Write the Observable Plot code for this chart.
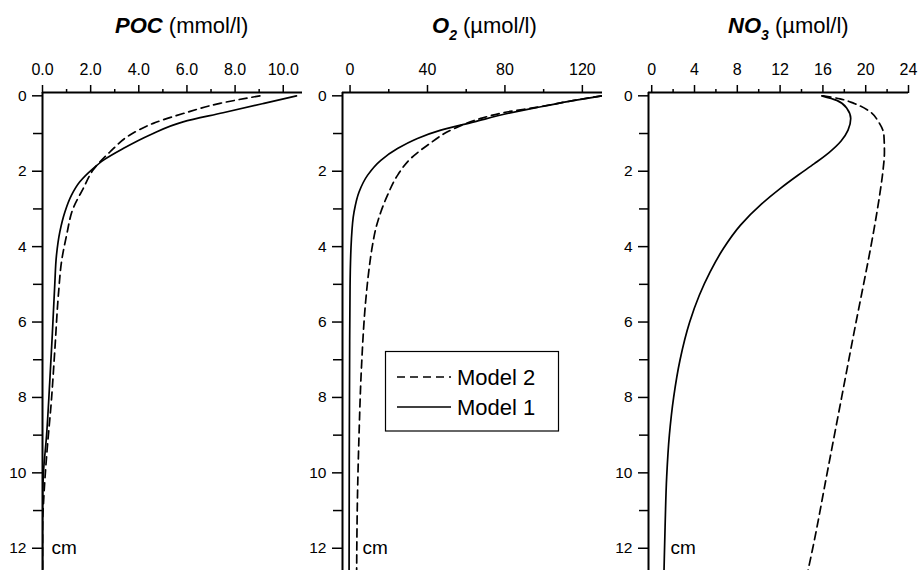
<!DOCTYPE html>
<html><head><meta charset="utf-8">
<script src="https://cdn.jsdelivr.net/npm/d3@7"></script>
<script src="https://cdn.jsdelivr.net/npm/@observablehq/plot@0.6"></script>
<style>
body{margin:0;background:#fff;}
#wrap{position:relative;width:920px;height:570px;overflow:hidden;font-family:"Liberation Sans",Arial,sans-serif;}
#wrap > svg{position:absolute;top:0;}
</style></head><body><div id="wrap"></div>
<script>
// ---- data (depth in cm) ----
const pocDepth1 = [0, 0.2, 0.45, 0.69, 1.04, 1.40, 1.7, 1.93, 2.28, 2.64, 3.08, 3.61, 4.23, 5.0, 6.3, 7.6, 9.0, 10.1, 11.0, 12.6];
const pocModel1 = [10.55, 9.2, 7.5, 5.84, 4.46, 3.35, 2.55, 2.10, 1.55, 1.20, 0.93, 0.72, 0.58, 0.51, 0.41, 0.30, 0.17, 0.03, 0, 0];
const pocDepth2 = [0, 0.2, 0.47, 0.73, 1.04, 1.49, 1.97, 2.46, 2.99, 3.70, 4.40, 5.2, 6.76, 8.08, 9.4, 10.7, 11.5, 12.6];
const pocModel2 = [9.03, 7.37, 5.84, 4.6, 3.63, 2.80, 2.10, 1.69, 1.27, 1.00, 0.79, 0.67, 0.51, 0.37, 0.19, 0.05, 0, 0];

const o2Depth1 = [0, 0.12, 0.29, 0.47, 0.69, 0.91, 1.13, 1.40, 1.71, 2.11, 2.55, 3.08, 3.79, 5.07, 8.0, 12.6];
const o2Model1 = [130, 115.8, 98.6, 81.3, 64.1, 46.9, 34.8, 24.5, 15.9, 9.0, 4.65, 2.07, 0.72, 0, -0.3, -0.5];
const o2Depth2 = [0, 0.12, 0.29, 0.45, 0.60, 0.87, 1.31, 1.66, 2.11, 2.64, 3.08, 3.52, 3.96, 4.6, 5.43, 7.2, 8.97, 10.73, 12.6];
const o2Model2 = [130, 115.8, 98, 79, 67.5, 53.7, 40, 31.4, 24.5, 19.3, 15.9, 13.3, 11.6, 9.8, 8.1, 5.9, 4.65, 3.8, 3.4];

const no3Depth1 = [0, 0.12, 0.34, 0.60, 0.91, 1.2, 1.5, 1.8, 2.1, 2.46, 2.86, 3.43, 4.05, 4.67, 5.29, 6.0, 7.0, 8.0, 9.0, 10.1, 11.44, 12.6];
const no3Model1 = [15.9, 17.3, 18.26, 18.6, 18.35, 17.7, 16.6, 15.2, 13.7, 12.0, 10.3, 8.3, 6.7, 5.46, 4.45, 3.55, 2.65, 2.05, 1.65, 1.4, 1.25, 1.15];
const no3Depth2 = [0, 0.08, 0.2, 0.42, 0.69, 1.04, 1.49, 2.02, 2.64, 3.34, 4.05, 5.0, 6.0, 8.0, 10.0, 12.0, 12.6];
const no3Model2 = [16.0, 17.6, 18.9, 20.4, 21.2, 21.7, 21.75, 21.6, 21.3, 20.9, 20.45, 19.8, 19.1, 17.75, 16.4, 15.05, 14.6];

const yMajor = [0, 2, 4, 6, 8, 10, 12];
const yMinor = [1, 3, 5, 7, 9, 11];
const pocTicks = [0, 2, 4, 6, 8, 10], pocMinor = [1, 3, 5, 7, 9];
const o2Ticks = [0, 40, 80, 120], o2Minor = [20, 60, 100];
const no3Ticks = [0, 4, 8, 12, 16, 20, 24], no3Minor = [2, 6, 10, 14, 18, 22];
const seriesNames = ["Model 2", "Model 1"];

const yDomain = [-0.088, 12.59];
const toRows = (ds, vs) => ds.map((d, i) => ({d, v: vs[i]}));

function panel({rows1, rows2, xDomain, majors, minors, fmt, left, cmDx}) {
  const svg = Plot.plot({
    width: 310, height: 570,
    marginTop: 92, marginBottom: 0, marginLeft: 42, marginRight: 8,
    style: {fontFamily: "'Liberation Sans', Arial, sans-serif", fontSize: "15px", color: "black", background: "transparent", overflow: "visible"},
    x: {domain: xDomain},
    y: {domain: yDomain, reverse: true},
    marks: [
      Plot.axisX(majors, {anchor: "top", tickSize: 8, tickPadding: 10, tickFormat: fmt, strokeWidth: 1.5, label: null}),
      Plot.axisX(minors, {anchor: "top", tickSize: 4, tickFormat: () => "", strokeWidth: 1.5, label: null}),
      Plot.axisY(yMajor, {anchor: "left", tickSize: 10, tickPadding: 6, strokeWidth: 1.5, label: null}),
      Plot.axisY(yMinor, {anchor: "left", tickSize: 9, tickFormat: () => "", strokeWidth: 1.5, label: null}),
      Plot.ruleY([yDomain[0]], {strokeWidth: 2}),
      Plot.ruleX([xDomain[0]], {strokeWidth: 2}),
      Plot.line(rows2, {x: "v", y: "d", curve: "monotone-y", strokeWidth: 1.7, strokeDasharray: "8,5", clip: true}),
      Plot.line(rows1, {x: "v", y: "d", curve: "monotone-y", strokeWidth: 1.7, clip: true}),
      Plot.text(["cm"], {y: [12], frameAnchor: "left", dx: cmDx, textAnchor: "start", fontSize: 19})
    ]
  });
  svg.querySelectorAll("text").forEach(t => {
    if (t.textContent === "cm") { t.style.fontSize = "19px"; return; }
    const g = t.closest("g[aria-label]");
    const lab = g ? g.getAttribute("aria-label") : "";
    t.style.fontSize = lab.startsWith("y") ? "15.5px" : "16px";
  });
  svg.style.left = left + "px";
  return svg;
}

const wrap = document.getElementById("wrap");
wrap.appendChild(panel({rows1: toRows(pocDepth1, pocModel1), rows2: toRows(pocDepth2, pocModel2),
  xDomain: [0, 10.8], majors: pocTicks, minors: pocMinor, fmt: d3.format(".1f"), left: 0, cmDx: 9}));
wrap.appendChild(panel({rows1: toRows(o2Depth1, o2Model1), rows2: toRows(o2Depth2, o2Model2),
  xDomain: [-3.9, 130.4], majors: o2Ticks, minors: o2Minor, fmt: d3.format("d"), left: 300, cmDx: 20}));
wrap.appendChild(panel({rows1: toRows(no3Depth1, no3Model1), rows2: toRows(no3Depth2, no3Model2),
  xDomain: [-0.3, 24], majors: no3Ticks, minors: no3Minor, fmt: d3.format("d"), left: 606, cmDx: 22}));

// titles and legend overlay
const ns = "http://www.w3.org/2000/svg";
const ov = document.createElementNS(ns, "svg");
ov.setAttribute("width", 920); ov.setAttribute("height", 570);
ov.style.left = "0px";
ov.setAttribute("font-family", "'Liberation Sans', Arial, sans-serif");
ov.innerHTML = `
<text x="115" y="33" font-size="22"><tspan font-weight="bold" font-style="italic">POC</tspan> (mmol/l)</text>
<text x="432" y="33" font-size="22"><tspan font-weight="bold" font-style="italic">O</tspan><tspan font-weight="bold" font-style="italic" font-size="14" dy="7">2</tspan><tspan dy="-7"> (µmol/l)</tspan></text>
<text x="728" y="33" font-size="22"><tspan font-weight="bold" font-style="italic">NO</tspan><tspan font-weight="bold" font-style="italic" font-size="14" dy="7">3</tspan><tspan dy="-7"> (µmol/l)</tspan></text>
<rect x="385.5" y="351.5" width="173" height="79.5" fill="white" stroke="black" stroke-width="1.2"/>
<line x1="397" x2="451" y1="377" y2="377" stroke="black" stroke-width="1.7" stroke-dasharray="8,5"/>
<line x1="397" x2="451" y1="407" y2="407" stroke="black" stroke-width="1.7"/>
<text x="457" y="384.5" font-size="22">${seriesNames[0]}</text>
<text x="457" y="414.5" font-size="22">${seriesNames[1]}</text>`;
wrap.appendChild(ov);
</script>
</body></html>
